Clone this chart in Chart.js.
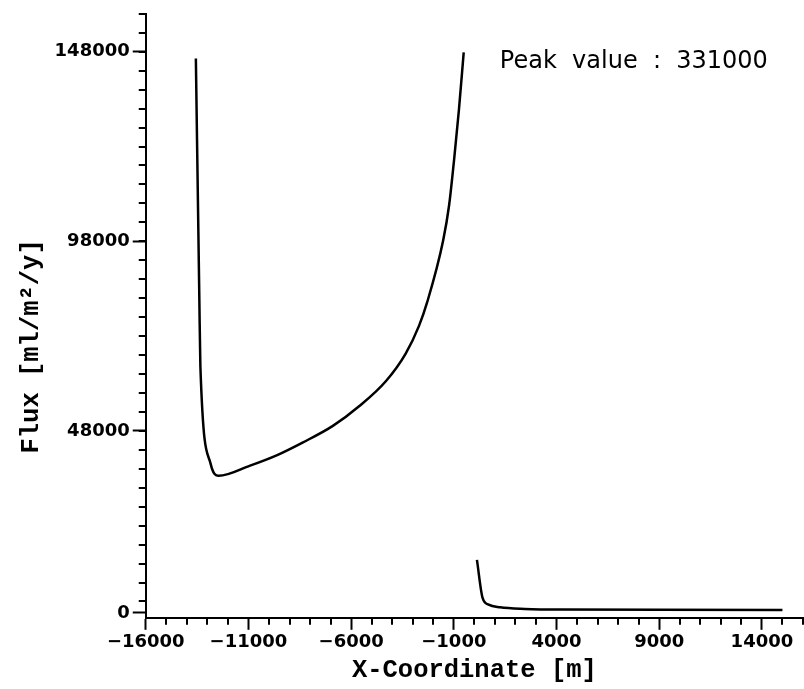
<!DOCTYPE html>
<html>
<head>
<meta charset="utf-8">
<script src="https://cdn.jsdelivr.net/npm/chart.js@4.4.1/dist/chart.umd.min.js"></script>
<style>
  html, body { margin: 0; padding: 0; background: #fff; }
  #wrap { width: 804px; height: 689px; }
</style>
</head>
<body>
<div id="wrap"><canvas id="myChart" width="804" height="689"></canvas></div>
<script>
// left branch of the flux curve (x in m, flux in ml/m2/y)
var leftX = [-13560, -13390, -13340, -12840, -12454, -10920, -9600, -8342, -6890, -5598, -4312, -3344, -2696, -2294, -1520, -1230, -988, -750, -519];
var leftFlux = [146200, 82500, 65000, 39300, 36150, 38840, 41610, 44970, 49320, 54560, 61100, 68400, 75700, 82000, 98220, 107500, 119500, 132800, 147800];

// right branch
var rightX = [125, 400, 691, 1252, 2462, 4237, 9000, 15000];
var rightFlux = [13960, 3930, 2170, 1490, 1050, 860, 800, 780];

// labelled ticks
var xTicks = [-16000, -11000, -6000, -1000, 4000, 9000, 14000];
var yTicks = [0, 48000, 98000, 148000];
var xMinorStep = 1000;
var yMinorStep = 5000, yMinorStart = 3000;

var peakText = 'Peak  value  :  331000';

function toPoints(xs, ys) {
  return xs.map(function (x, i) { return {x: x, y: ys[i]}; });
}

function fmt(v) {
  return v < 0 ? '\u2212' + Math.abs(v) : String(v);
}

var element = document.getElementById('myChart').getContext('2d');

// small ticks between the labelled ones, plus the peak note
var extras = {
  id: 'extras',
  afterDraw: function (chart) {
    var ctx = chart.ctx, xs = chart.scales.x, ys = chart.scales.y, a = chart.chartArea;
    ctx.save();
    ctx.strokeStyle = '#000';
    ctx.lineWidth = 2;
    ctx.beginPath();
    for (var v = xs.min; v <= xs.max; v += xMinorStep) {
      if (xTicks.indexOf(v) >= 0) continue;
      var px = Math.round(xs.getPixelForValue(v));
      ctx.moveTo(px, a.bottom);
      ctx.lineTo(px, a.bottom + 7);
    }
    for (var w = yMinorStart; w <= ys.max; w += yMinorStep) {
      var py = Math.round(ys.getPixelForValue(w));
      ctx.moveTo(a.left - 7, py);
      ctx.lineTo(a.left, py);
    }
    ctx.stroke();
    ctx.fillStyle = '#000';
    ctx.font = '24px "DejaVu Sans"';
    ctx.textBaseline = 'alphabetic';
    ctx.textAlign = 'left';
    ctx.fillText(peakText, xs.getPixelForValue(1240), ys.getPixelForValue(143800));
    ctx.restore();
  }
};

var chartData = {
  datasets: [{
    data: toPoints(leftX, leftFlux),
    borderColor: '#000',
    borderWidth: 2.5,
    pointRadius: 0,
    showLine: true,
    cubicInterpolationMode: 'monotone'
  }, {
    data: toPoints(rightX, rightFlux),
    borderColor: '#000',
    borderWidth: 2.5,
    pointRadius: 0,
    showLine: true,
    cubicInterpolationMode: 'monotone'
  }]
};

var tickFont = {family: '"DejaVu Sans"', size: 18, weight: 'bold'};
var titleFont = {family: '"Liberation Mono"', size: 25.5, weight: 'bold'};

var chartOptions = {
  responsive: false,
  animation: false,
  events: [],
  layout: {padding: {left: 0, right: 1, top: 12, bottom: 0}},
  plugins: {legend: {display: false}, tooltip: {enabled: false}},
  scales: {
    x: {
      type: 'linear',
      min: -16000,
      max: 16000,
      afterBuildTicks: function (axis) { axis.ticks = xTicks.map(function (v) { return {value: v}; }); },
      ticks: {color: '#000', font: tickFont, padding: 2, maxRotation: 0, autoSkip: false, callback: fmt},
      grid: {drawOnChartArea: false, color: '#000', tickLength: 12, tickWidth: 2},
      border: {color: '#000', width: 2},
      title: {display: true, text: 'X-Coordinate [m]', color: '#000', font: titleFont, padding: {top: 0, bottom: 3}}
    },
    y: {
      type: 'linear',
      min: -1300,
      max: 158000,
      afterBuildTicks: function (axis) { axis.ticks = yTicks.map(function (v) { return {value: v}; }); },
      ticks: {color: '#000', font: tickFont, padding: 3, autoSkip: false, callback: fmt},
      grid: {drawOnChartArea: false, color: '#000', tickLength: 13, tickWidth: 2},
      border: {color: '#000', width: 2},
      // trailing spaces push the rotated title down, as in the original
      title: {display: true, text: 'Flux [ml/m\u00b2/y]    ', color: '#000', font: titleFont, padding: {top: 16, bottom: 5}}
    }
  }
};

var chart = new Chart(element, {type: 'scatter', data: chartData, options: chartOptions, plugins: [extras]});
</script>
</body>
</html>
